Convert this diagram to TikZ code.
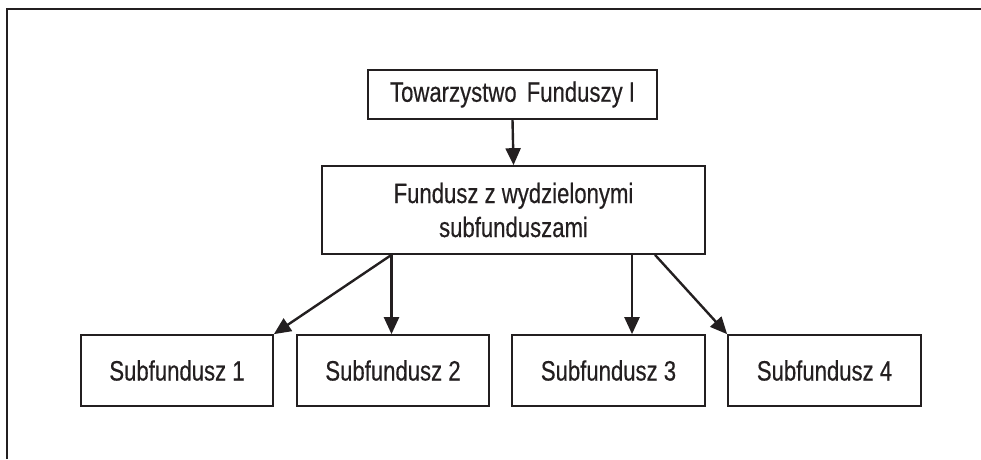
\documentclass[tikz,border=0pt]{standalone}
\usepackage{fontspec}
\setmainfont{Liberation Sans}[FakeStretch=0.79,FakeBold=0.4]
\usetikzlibrary{arrows.meta,calc}
\definecolor{ink}{HTML}{231F20}
\begin{document}
\begin{tikzpicture}[x=1pt,y=-1pt,
  box/.style={draw=ink,line width=1.7pt,inner sep=0pt,align=center,text=ink,
    font=\fontsize{28}{34}\selectfont},
  arr/.style={draw=ink,line width=2.4pt,-{Triangle[length=17pt,width=15pt]}}]
\useasboundingbox (0,0) rectangle (981,459);
\draw[ink,line width=1.7pt] (7,459) -- (7,9) -- (981,9);
\node[box,minimum width=289pt,minimum height=49pt] (top) at (512.5,94.5) {Towarzystwo\hspace{4pt} Funduszy I};
\node[box,minimum width=383pt,minimum height=88pt] (mid) at (513.5,210) {Fundusz z wydzielonymi\\subfunduszami};
\node[box,minimum width=192pt,minimum height=71pt] (b1) at (177,370.5) {Subfundusz 1};
\node[box,minimum width=192pt,minimum height=71pt] (b2) at (393,370.5) {Subfundusz 2};
\node[box,minimum width=193pt,minimum height=71pt] (b3) at (608.5,370.5) {Subfundusz 3};
\node[box,minimum width=193pt,minimum height=71pt] (b4) at (824.5,370.5) {Subfundusz 4};
\coordinate (sL) at ($(mid.south)+(-122,0)$);
\coordinate (s3) at ($(mid.south)+(118.5,0)$);
\coordinate (s4) at ($(mid.south)+(141.5,0)$);
\coordinate (t3) at ($(b3.north)+(23.5,0)$);
\draw[arr] (top.south) -- (mid.north);
\draw[arr] (sL) -- (b1.north east);
\draw[arr] (sL) -- (sL |- b2.north);
\draw[arr] (s3) -- (t3);
\draw[arr] (s4) -- (b4.north west);
\end{tikzpicture}
\end{document}
